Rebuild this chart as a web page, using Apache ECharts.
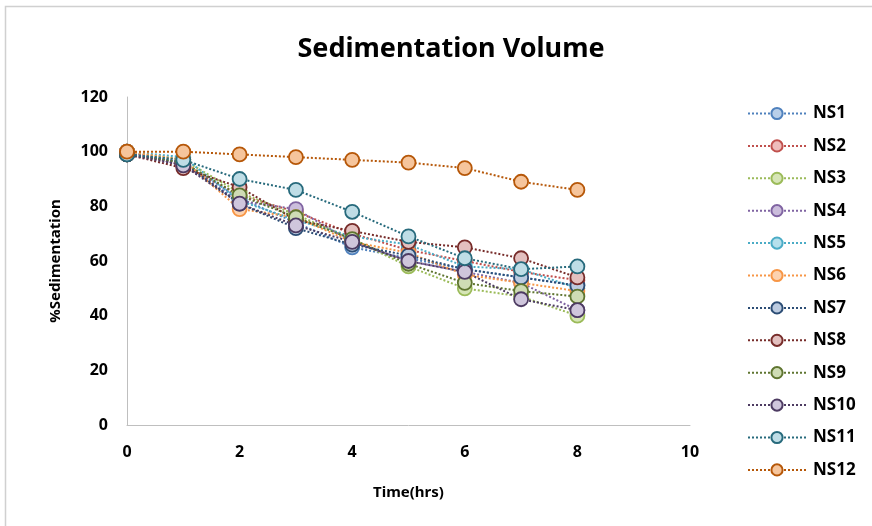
<!DOCTYPE html>
<html>
<head>
<meta charset="utf-8">
<script src="https://cdn.jsdelivr.net/npm/echarts@6/dist/echarts.min.js"></script>
<style>
  html, body { margin: 0; padding: 0; background: #fff; }
  #main { width: 872px; height: 526px; }
</style>
</head>
<body>
<div id="main"></div>
<script>
// time in hours
var hours = [0, 1, 2, 3, 4, 5, 6, 7, 8];
var seriesNames = ['NS1', 'NS2', 'NS3', 'NS4', 'NS5', 'NS6', 'NS7', 'NS8', 'NS9', 'NS10', 'NS11', 'NS12'];

// % sedimentation
var ns1 = [100, 96, 83, 74, 65, 61, 57, 54, 51];
var ns2 = [100, 95, 84, 78, 70, 64, 60, 56, 53];
var ns3 = [100, 97, 85, 77, 68, 58, 50, 47, 40];
var ns4 = [100, 95, 82, 79, 67, 60, 56, 52, 42];
var ns5 = [100, 98, 82, 75, 69, 66, 58, 57, 50];
var ns6 = [100, 97, 79, 76, 67, 63, 55, 52, 49];
var ns7 = [99, 96, 81, 72, 66, 62, 57, 54, 51];
var ns8 = [99, 94, 87, 75, 71, 67, 65, 61, 54];
var ns9 = [99, 96, 84, 76, 68, 59, 52, 49, 47];
var ns10 = [99, 95, 81, 73, 67, 60, 56, 46, 42];
var ns11 = [99, 97, 90, 86, 78, 69, 61, 57, 58];
var ns12 = [100, 100, 99, 98, 97, 96, 94, 89, 86];
var allValues = [ns1, ns2, ns3, ns4, ns5, ns6, ns7, ns8, ns9, ns10, ns11, ns12];

var lineColors = ['#4F81BD', '#C0504D', '#9BBB59', '#8064A2', '#4BACC6', '#F79646',
                  '#2C4D75', '#772C2A', '#5F7530', '#4D3B62', '#276A7C', '#B65708'];
var fillColors = ['#b9cfe9', '#eebcbb', '#d6e5b6', '#cbbddc', '#b6e0ec', '#fcd2b0',
                  '#bccbe0', '#e3c0bf', '#cfdcb5', '#cfc6dc', '#bfdde6', '#f6c59c'];

var font = '"Noto Sans", "Open Sans", sans-serif';

var series = [];
for (var i = 0; i < seriesNames.length; i++) {
    var pts = [];
    for (var j = 0; j < hours.length; j++) {
        pts.push([hours[j], allValues[i][j]]);
    }
    series.push({
        name: seriesNames[i],
        type: 'line',
        data: pts,
        symbol: 'circle',
        symbolSize: 14,
        showAllSymbol: true,
        lineStyle: { color: lineColors[i], width: 2, type: [2, 2] },
        itemStyle: { color: fillColors[i], borderColor: lineColors[i], borderWidth: 1.8 },
        emphasis: { disabled: true }
    });
}

var myChart = echarts.init(document.getElementById('main'));
var option = {
    backgroundColor: '#fff',
    animation: false,
    title: {
        text: 'Sedimentation Volume',
        left: 446,
        textAlign: 'center',
        top: 31,
        textStyle: { fontFamily: font, fontSize: 27, fontWeight: 'bold', color: '#000' }
    },
    graphic: [{
        type: 'rect',
        shape: { x: 5.5, y: 6.5, width: 880, height: 540 },
        style: { fill: 'none', stroke: '#d0d0d0', lineWidth: 1.5 },
        silent: true
    }],
    legend: {
        orient: 'vertical',
        left: 742,
        top: 100,
        itemWidth: 58,
        itemHeight: 14,
        itemGap: 15.4,
        data: seriesNames,
        textStyle: { fontFamily: font, fontSize: 17, fontWeight: 'bold', color: '#000', padding: [0, 0, 0, 2] }
    },
    grid: { left: 127, right: 182, top: 97, bottom: 101, containLabel: false },
    xAxis: {
        type: 'value',
        min: 0,
        max: 10,
        interval: 2,
        name: 'Time(hrs)',
        nameLocation: 'middle',
        nameGap: 60,
        nameTextStyle: { fontFamily: font, fontSize: 15, fontWeight: 'bold', color: '#000' },
        axisLine: { show: true, lineStyle: { color: '#bfbfbf', width: 1 } },
        axisTick: { show: false },
        splitLine: { show: false },
        axisLabel: { fontFamily: font, fontSize: 16, fontWeight: 'bold', color: '#000', margin: 19 }
    },
    yAxis: {
        type: 'value',
        min: 0,
        max: 120,
        interval: 20,
        name: '%Sedimentation',
        nameLocation: 'middle',
        nameGap: 64,
        nameTextStyle: { fontFamily: font, fontSize: 15, fontWeight: 'bold', color: '#000' },
        axisLine: { show: true, lineStyle: { color: '#bfbfbf', width: 1 } },
        axisTick: { show: false },
        splitLine: { show: false },
        axisLabel: { fontFamily: font, fontSize: 16, fontWeight: 'bold', color: '#000', margin: 19 }
    },
    series: series
};
myChart.setOption(option);
</script>
</body>
</html>
